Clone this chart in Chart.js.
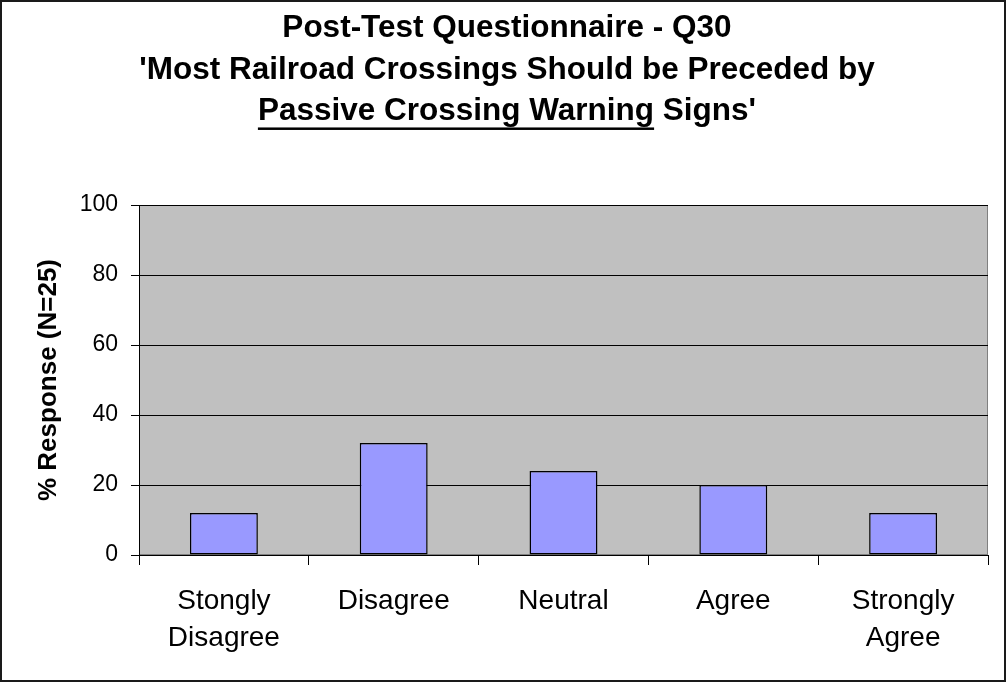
<!DOCTYPE html>
<html><head><meta charset="utf-8">
<script src="https://cdn.jsdelivr.net/npm/chart.js@4/dist/chart.umd.min.js"></script>
<style>html,body{margin:0;padding:0;background:#fff}canvas{display:block}</style>
</head><body>
<canvas id="c" width="1008" height="683"></canvas>
<script>
const titleLines = ["Post-Test Questionnaire - Q30", "'Most Railroad Crossings Should be Preceded by", "Passive Crossing Warning Signs'"];
const underlinedPart = "Passive Crossing Warning";
const categories = [["Stongly", "Disagree"], "Disagree", "Neutral", "Agree", ["Strongly", "Agree"]];
const responsePct = [12, 32, 24, 20, 12];
const yTickLabels = ["0", "20", "40", "60", "80", "100"];
const yAxisTitle = "% Response (N=25)";

const FONT = "'Liberation Sans', Arial, sans-serif";
const TITLE_SIZE = 31.5, TITLE_LH = 1.32, TITLE_PAD_TOP = 7.5;

const decorPlugin = {
  id: 'decor',
  beforeDraw(chart) {
    const {ctx, chartArea: a} = chart;
    ctx.save();
    ctx.fillStyle = '#ffffff';
    ctx.fillRect(0, 0, chart.width, chart.height);
    ctx.fillStyle = '#c0c0c0';
    ctx.fillRect(a.left, a.top, a.right - a.left, a.bottom - a.top);
    ctx.strokeStyle = '#808080';
    ctx.lineWidth = 1;
    ctx.strokeRect(a.left + 0.5, a.top + 0.5, a.right - a.left - 1, a.bottom - a.top - 1);
    ctx.restore();
  },
  afterDraw(chart) {
    const ctx = chart.ctx;
    ctx.save();
    ctx.strokeStyle = '#1a1a1a';
    ctx.lineWidth = 2;
    ctx.strokeRect(1, 1, 1004, 680);
    const tb = chart.titleBlock;
    ctx.font = 'bold ' + TITLE_SIZE + 'px ' + FONT;
    const lh = TITLE_SIZE * TITLE_LH;
    const cx = (tb.left + tb.right) / 2;
    const full = ctx.measureText(titleLines[2]).width;
    const part = ctx.measureText(underlinedPart).width;
    const x0 = cx - full / 2;
    const yc = tb.top + TITLE_PAD_TOP + lh / 2 + 2 * lh;
    ctx.fillStyle = '#000';
    ctx.fillRect(x0, yc + 16, part, 2.5);
    ctx.restore();
  }
};

new Chart(document.getElementById('c'), {
  type: 'bar',
  data: {
    labels: categories,
    datasets: [{
      data: responsePct,
      backgroundColor: '#9999ff',
      borderColor: '#000000',
      borderWidth: 1.5,
      borderSkipped: false,
      barPercentage: 0.4,
      categoryPercentage: 1.0
    }]
  },
  options: {
    responsive: false,
    animation: false,
    devicePixelRatio: 1,
    layout: {padding: {left: 26, right: 20, top: 0, bottom: 0}},
    plugins: {
      legend: {display: false},
      tooltip: {enabled: false},
      title: {
        display: true,
        text: titleLines,
        color: '#000',
        font: {family: FONT, size: TITLE_SIZE, weight: 'bold', lineHeight: TITLE_LH},
        padding: {top: TITLE_PAD_TOP, bottom: 205 - TITLE_PAD_TOP - 3 * TITLE_SIZE * TITLE_LH}
      }
    },
    scales: {
      x: {
        offset: true,
        grid: {display: true, drawOnChartArea: false, offset: true, color: '#000', tickLength: 10, tickWidth: 1},
        border: {display: true, color: '#000', width: 1},
        ticks: {color: '#000', padding: 18, font: {family: FONT, size: 28, lineHeight: 1.32}, maxRotation: 0, autoSkip: false},
        afterFit(s) { s.height = 128; }
      },
      y: {
        min: 0, max: 100,
        grid: {color: '#000', lineWidth: 1, tickLength: 8},
        border: {display: true, color: '#000', width: 1},
        ticks: {
          stepSize: 20, color: '#000', padding: 13,
          font: {family: FONT, size: 23},
          callback: (v) => yTickLabels[yTickLabels.indexOf(String(v))] ?? ''
        },
        title: {
          display: true, text: yAxisTitle, color: '#000',
          font: {family: FONT, size: 26, weight: 'bold', lineHeight: 1.2},
          padding: {top: 7, bottom: 0}
        },
        afterFit(s) { s.width = 113; }
      }
    }
  },
  plugins: [decorPlugin]
});
</script>
</body></html>
